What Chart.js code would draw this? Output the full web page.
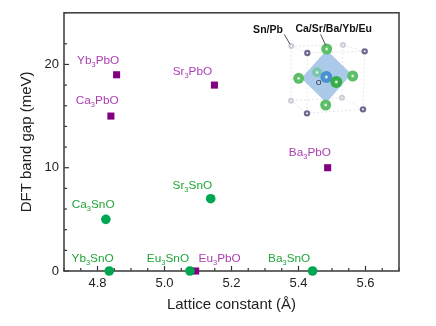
<!DOCTYPE html>
<html>
<head>
<meta charset="utf-8">
<script src="https://cdn.jsdelivr.net/npm/chart.js@4"></script>
<style>
  html, body { margin: 0; padding: 0; background: #fff; }
  canvas { display: block; }
</style>
</head>
<body>
<canvas id="chart" width="436" height="326"></canvas>
<script>
// compounds: [element, rest of formula], subscript 3 goes between
const pbNames = [['Yb', 'PbO'], ['Ca', 'PbO'], ['Sr', 'PbO'], ['Ba', 'PbO'], ['Eu', 'PbO']];
const pbLattice = [4.857, 4.84, 5.149, 5.487, 5.093];
const pbGap = [19, 15, 18, 10, 0];

const snNames = [['Yb', 'SnO'], ['Ca', 'SnO'], ['Sr', 'SnO'], ['Eu', 'SnO'], ['Ba', 'SnO']];
const snLattice = [4.835, 4.825, 5.138, 5.076, 5.442];
const snGap = [0, 5, 7, 0, 0];

const FONT = '"Liberation Sans", Arial, sans-serif';
const PB_DOT = '#800080', PB_TEXT = '#ab3cb2';
const SN_DOT = '#00a651', SN_TEXT = '#1fa539';

// label centre / baseline offsets from their marker, px
const pbOffsets = [[-18.4, -11], [-13.7, -11.7], [-22, -10], [-17.7, -11.6], [24, -9]];
const snOffsets = [[-16.6, -9], [-12.7, -11], [-18.4, -9.6], [-22, -9], [-23.4, -9]];

function toPoints(xs, ys) {
    return xs.map((x, i) => ({ x: x, y: ys[i] }));
}

function drawFormula(ctx, parts, cx, baseY, color) {
    const size = 11.8, subSize = 7.5;
    ctx.fillStyle = color;
    ctx.textAlign = 'left';
    ctx.textBaseline = 'alphabetic';
    ctx.font = size + 'px ' + FONT;
    const w1 = ctx.measureText(parts[0]).width;
    const w3 = ctx.measureText(parts[1]).width;
    ctx.font = subSize + 'px ' + FONT;
    const w2 = ctx.measureText('3').width;
    let x = cx - (w1 + w2 + w3) / 2;
    ctx.font = size + 'px ' + FONT;
    ctx.fillText(parts[0], x, baseY);
    x += w1;
    ctx.font = subSize + 'px ' + FONT;
    ctx.fillText('3', x, baseY + 3);
    x += w2;
    ctx.font = size + 'px ' + FONT;
    ctx.fillText(parts[1], x, baseY);
}

function drawAtom(ctx, x, y, r, color, alpha) {
    ctx.save();
    ctx.globalAlpha = alpha;
    const g = ctx.createRadialGradient(x, y, 0.5, x, y, r);
    g.addColorStop(0, '#eef8ee');
    g.addColorStop(0.3, color);
    g.addColorStop(1, color);
    ctx.fillStyle = g;
    ctx.beginPath();
    ctx.arc(x, y, r, 0, Math.PI * 2);
    ctx.fill();
    ctx.restore();
}

// crystal structure inset, a decoration and not data
function drawInset(ctx) {
    const ox = 218, sc = 1 / 3;
    const p = (x, y) => [ox + x * sc, y * sc];
    const line = (a, b) => {
        ctx.beginPath();
        ctx.moveTo(...p(a[0], a[1]));
        ctx.lineTo(...p(b[0], b[1]));
        ctx.stroke();
    };
    const back = [[220, 138], [375, 135], [372, 293], [219, 302]];
    const front = [[268, 159], [440, 154], [435, 328], [267, 340]];

    ctx.save();
    ctx.strokeStyle = '#dcdce0';
    ctx.lineWidth = 0.7;
    ctx.setLineDash([2, 2]);
    for (let i = 0; i < 4; i++) {
        line(back[i], back[(i + 1) % 4]);
        line(front[i], front[(i + 1) % 4]);
        line(back[i], front[i]);
    }
    ctx.setLineDash([]);

    ctx.fillStyle = 'rgba(150,187,228,0.8)';
    ctx.beginPath();
    ctx.moveTo(...p(326, 150));
    ctx.lineTo(...p(400, 222));
    ctx.lineTo(...p(325, 308));
    ctx.lineTo(...p(250, 235));
    ctx.closePath();
    ctx.fill();

    back.forEach(a => {
        const c = p(a[0], a[1]);
        drawAtom(ctx, c[0], c[1], 3, '#cfccd9', 1);
    });
    front.forEach(a => {
        const c = p(a[0], a[1]);
        drawAtom(ctx, c[0], c[1], 3.2, '#6f6a8e', 1);
    });
    const c0 = p(297, 217);
    drawAtom(ctx, c0[0], c0[1], 5, '#7cc6b0', 1);
    [[326, 147], [242, 235], [404, 228], [323, 315]].forEach(a => {
        const c = p(a[0], a[1]);
        drawAtom(ctx, c[0], c[1], 5.5, '#5cbf68', 1);
    });
    const c1 = p(325, 231);
    drawAtom(ctx, c1[0], c1[1], 6, '#4a90d0', 1);
    const c2 = p(355, 246);
    drawAtom(ctx, c2[0], c2[1], 6, '#34ae48', 1);

    ctx.strokeStyle = '#222';
    ctx.lineWidth = 0.8;
    line([199, 103], [216, 133]);
    line([308, 103], [323, 136]);

    ctx.fillStyle = '#111';
    ctx.textAlign = 'center';
    ctx.textBaseline = 'middle';
    ctx.font = 'bold 10.5px ' + FONT;
    ctx.fillText('Sn/Pb', ox + 150 * sc, 88 * sc + 0.5);
    ctx.fillText('Ca/Sr/Ba/Yb/Eu', ox + 347 * sc, 87 * sc);
    ctx.font = '7px ' + FONT;
    ctx.fillText('O', ox + 302 * sc, 250 * sc);
    ctx.restore();
}

const framePlugin = {
    id: 'frame',
    // inset sits under the marks
    beforeDatasetsDraw(chart) {
        drawInset(chart.ctx);
    },
    afterDatasetsDraw(chart) {
        const ctx = chart.ctx;
        const xs = chart.scales.x, ys = chart.scales.y;
        ctx.save();
        pbNames.forEach((n, i) => {
            drawFormula(ctx, n, xs.getPixelForValue(pbLattice[i]) + pbOffsets[i][0],
                ys.getPixelForValue(pbGap[i]) + pbOffsets[i][1], PB_TEXT);
        });
        snNames.forEach((n, i) => {
            drawFormula(ctx, n, xs.getPixelForValue(snLattice[i]) + snOffsets[i][0],
                ys.getPixelForValue(snGap[i]) + snOffsets[i][1], SN_TEXT);
        });
        ctx.restore();
    },
    beforeDraw(chart) {
        const ctx = chart.ctx, area = chart.chartArea;
        const xs = chart.scales.x, ys = chart.scales.y;
        ctx.save();
        ctx.strokeStyle = '#333';
        // inward ticks, longer at labelled values
        ctx.lineWidth = 1.2;
        xs.ticks.forEach(t => {
            const px = xs.getPixelForValue(t.value);
            const len = t.label ? 5 : 3;
            ctx.beginPath();
            ctx.moveTo(px, area.bottom);
            ctx.lineTo(px, area.bottom - len);
            ctx.stroke();
        });
        ys.ticks.forEach(t => {
            const py = ys.getPixelForValue(t.value);
            const len = t.label ? 5 : 3;
            ctx.beginPath();
            ctx.moveTo(area.left, py);
            ctx.lineTo(area.left + len, py);
            ctx.stroke();
        });
        // frame
        ctx.lineWidth = 1.6;
        ctx.strokeStyle = '#444';
        ctx.strokeRect(area.left, area.top, area.right - area.left, area.bottom - area.top);
        ctx.restore();
    }
};

new Chart(document.getElementById('chart'), {
    type: 'scatter',
    data: {
        datasets: [
            {
                label: 'Pb',
                data: toPoints(pbLattice, pbGap),
                pointStyle: 'rect',
                pointRadius: 5,
                backgroundColor: PB_DOT,
                borderWidth: 0,
                clip: false,
                order: 2
            },
            {
                label: 'Sn',
                data: toPoints(snLattice, snGap),
                pointStyle: 'circle',
                pointRadius: 4.8,
                backgroundColor: SN_DOT,
                borderWidth: 0,
                clip: false,
                order: 1
            }
        ]
    },
    options: {
        responsive: false,
        animation: false,
        layout: { padding: { top: 10, right: 37, left: 0, bottom: 0 } },
        plugins: { legend: { display: false }, tooltip: { enabled: false } },
        scales: {
            x: {
                type: 'linear',
                min: 4.7,
                max: 5.7,
                afterFit: s => { s.height = 55; },
                border: { display: false },
                grid: { display: false, drawTicks: false },
                ticks: {
                    stepSize: 0.05,
                    autoSkip: false,
                    maxRotation: 0,
                    padding: 5,
                    color: '#222',
                    font: { family: FONT, size: 13 },
                    callback: v => {
                        const tenths = Math.round(v * 100);
                        return tenths % 20 === 0 && tenths < 570 && tenths > 470 ? (tenths / 100).toFixed(1) : '';
                    }
                },
                title: {
                    display: true,
                    text: 'Lattice constant (Å)',
                    color: '#222',
                    font: { family: FONT, size: 15 },
                    padding: { top: 8, bottom: 12 }
                }
            },
            y: {
                min: 0,
                max: 25,
                afterFit: s => { s.width = 64; },
                border: { display: false },
                grid: { display: false, drawTicks: false },
                ticks: {
                    stepSize: 2,
                    autoSkip: false,
                    padding: 5,
                    color: '#222',
                    font: { family: FONT, size: 13 },
                    callback: v => (v % 10 === 0 ? String(v) : '')
                },
                title: {
                    display: true,
                    text: 'DFT band gap (meV)',
                    color: '#222',
                    font: { family: FONT, size: 15 },
                    padding: { top: 18, bottom: 0 }
                }
            }
        }
    },
    plugins: [framePlugin]
});
</script>
</body>
</html>
